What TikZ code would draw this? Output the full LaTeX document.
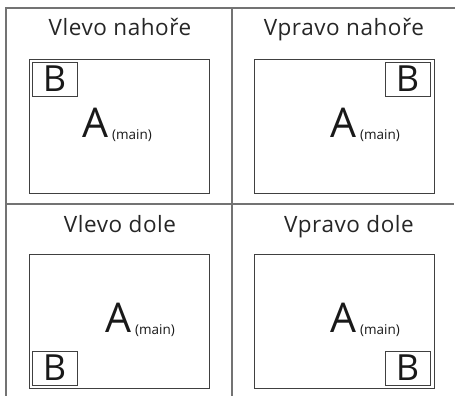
\documentclass[tikz,border=0pt]{standalone}
\usepackage{fontspec}
\setmainfont{Open Sans}
\usetikzlibrary{positioning}

\begin{document}
\begin{tikzpicture}[x=1pt,y=-1pt,
  screen/.style={draw=black!75,line width=0.9pt,minimum width=180pt,minimum height=134pt,inner sep=0pt},
  pip/.style={draw=black!75,line width=0.9pt,minimum width=45pt,minimum height=34pt,inner sep=0pt,font=\fontsize{36}{36}\selectfont,text=black!90},
  caption/.style={anchor=base,font=\fontsize{22.5}{22.5}\selectfont\addfontfeatures{LetterSpace=2.5},text=black!85},
  mainlbl/.style={anchor=base west,inner sep=0pt,text=black!90},
  frame/.style={draw=black!55,line width=1.3pt}]
  \useasboundingbox (0,0) rectangle (455,396);
  \draw[frame] (6,396) -- (6,8) -- (455,8);
  \draw[frame] (6,204) -- (454,204);
  \draw[frame] (232,8) -- (232,396);
  \node[caption] (tlt) at (120,36) {Vlevo nahoře};
  \node[caption] (trt) at (344,36) {Vpravo nahoře};
  \node[caption] (blt) at (120,232) {Vlevo dole};
  \node[caption] (brt) at (349,232) {Vpravo dole};
  \node[screen] (tl) at (119,126) {};
  \node[screen] (tr) at (344,126) {};
  \node[screen] (bl) at (119,321) {};
  \node[screen] (br) at (344,321) {};
  \node[pip,anchor=north west] (tlb) at ([xshift=3pt,yshift=-3pt]tl.north west) {B};
  \node[pip,anchor=north east] (trb) at ([xshift=-4pt,yshift=-3pt]tr.north east) {B};
  \node[pip,anchor=south west] (blb) at ([xshift=3pt,yshift=3pt]bl.south west) {B};
  \node[pip,anchor=south east] (brb) at ([xshift=-4pt,yshift=3pt]br.south east) {B};
  \node[mainlbl] (tla) at (82,137) {\fontsize{41}{41}\selectfont A\hspace{4pt}\raisebox{-2pt}{\fontsize{13.5}{13.5}\selectfont(main)}};
  \node[mainlbl] (tra) at (330,137) {\fontsize{41}{41}\selectfont A\hspace{4pt}\raisebox{-2pt}{\fontsize{13.5}{13.5}\selectfont(main)}};
  \node[mainlbl] (bla) at (105,332) {\fontsize{41}{41}\selectfont A\hspace{4pt}\raisebox{-2pt}{\fontsize{13.5}{13.5}\selectfont(main)}};
  \node[mainlbl] (bra) at (330,332) {\fontsize{41}{41}\selectfont A\hspace{4pt}\raisebox{-2pt}{\fontsize{13.5}{13.5}\selectfont(main)}};
\end{tikzpicture}
\end{document}
